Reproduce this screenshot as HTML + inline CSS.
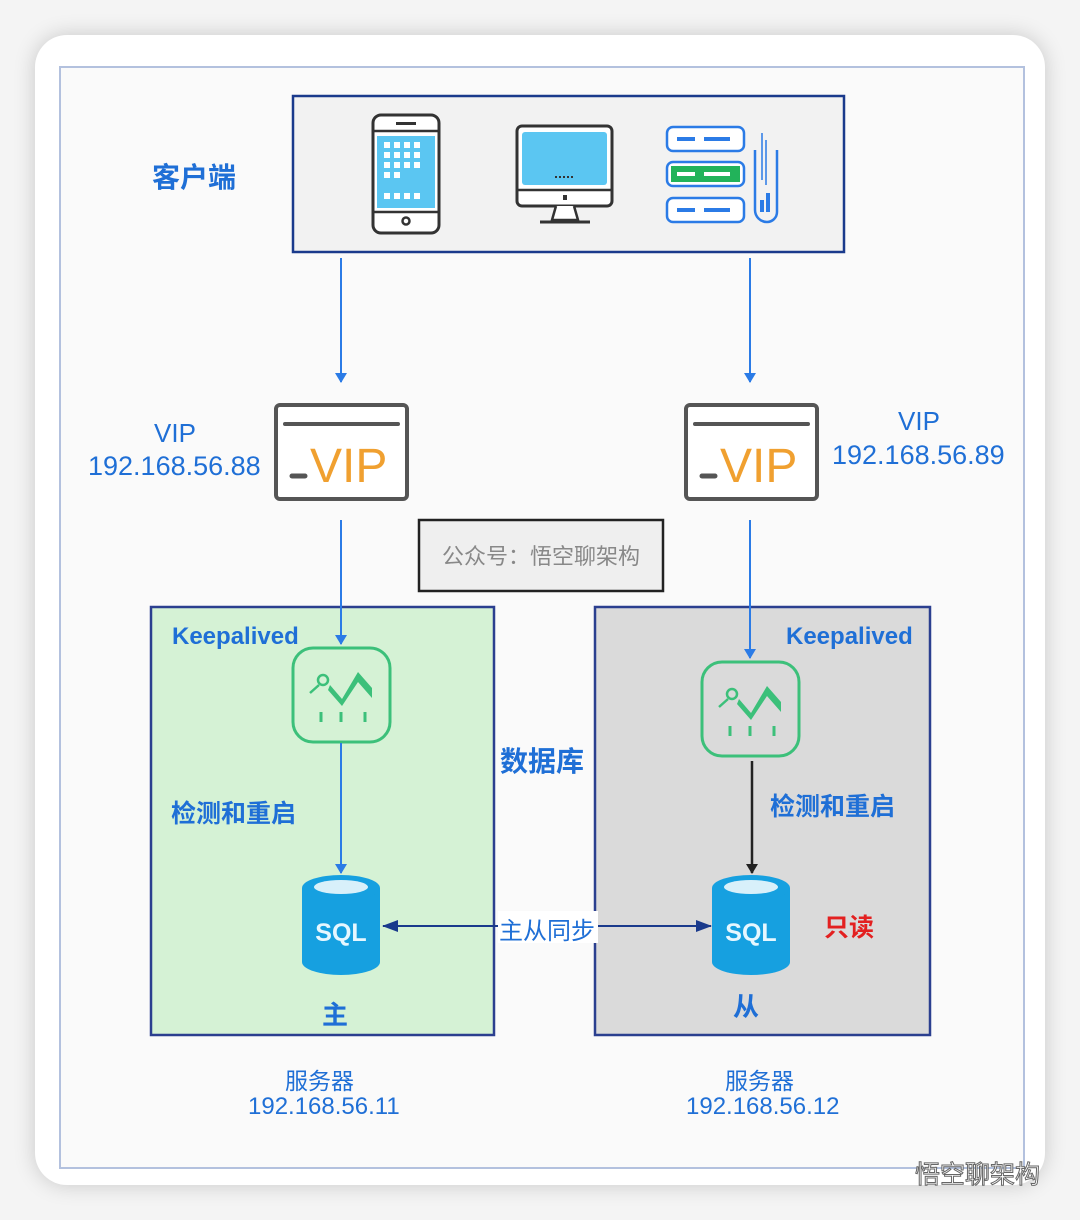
<!DOCTYPE html>
<html><head><meta charset="utf-8"><style>
body{margin:0;width:1080px;height:1220px;background:#f4f4f4;position:relative;overflow:hidden;font-family:"Liberation Sans","Noto Sans CJK SC",sans-serif}
.card{position:absolute;left:35px;top:35px;width:1010px;height:1150px;background:#fff;border-radius:32px;box-shadow:0 0 22px rgba(0,0,0,.18)}
.t{position:absolute;color:#1f6fd6;font-weight:bold;white-space:nowrap}
</style></head><body>
<div class="card"></div>
<svg style="position:absolute;left:0;top:0" width="1080" height="1220">
<defs>
<marker id="ab" markerWidth="10" markerHeight="12" refX="9" refY="6" orient="auto" markerUnits="userSpaceOnUse"><path d="M0,0L10,6L0,12z" fill="#2b7be6"/></marker>
<marker id="ak" markerWidth="10" markerHeight="12" refX="9" refY="6" orient="auto" markerUnits="userSpaceOnUse"><path d="M0,0L10,6L0,12z" fill="#222"/></marker>
<marker id="an" markerWidth="16" markerHeight="12" refX="15" refY="6" orient="auto" markerUnits="userSpaceOnUse"><path d="M0,0L16,6L0,12z" fill="#1a3a8c"/></marker>
</defs>
<rect x="60" y="67" width="964" height="1101" fill="#fafafa" stroke="#b3c1de" stroke-width="2"/>
<rect x="293" y="96" width="551" height="156" fill="#f2f2f2" stroke="#1a3a8c" stroke-width="2.5"/>
<rect x="373" y="115" width="66" height="118" rx="8" fill="#fff" stroke="#333" stroke-width="3"/>
<line x1="373" y1="131" x2="439" y2="131" stroke="#333" stroke-width="2.5"/><line x1="373" y1="212" x2="439" y2="212" stroke="#333" stroke-width="2.5"/>
<rect x="396" y="122" width="20" height="3" fill="#333"/>
<rect x="377" y="136" width="58" height="72" fill="#5bc6f2"/>
<g fill="#fff"><rect x="384" y="142" width="6" height="6"/><rect x="394" y="142" width="6" height="6"/><rect x="404" y="142" width="6" height="6"/><rect x="414" y="142" width="6" height="6"/><rect x="384" y="152" width="6" height="6"/><rect x="394" y="152" width="6" height="6"/><rect x="404" y="152" width="6" height="6"/><rect x="414" y="152" width="6" height="6"/><rect x="384" y="162" width="6" height="6"/><rect x="394" y="162" width="6" height="6"/><rect x="404" y="162" width="6" height="6"/><rect x="414" y="162" width="6" height="6"/><rect x="384" y="172" width="6" height="6"/><rect x="394" y="172" width="6" height="6"/><rect x="384" y="193" width="6" height="6"/><rect x="394" y="193" width="6" height="6"/><rect x="404" y="193" width="6" height="6"/><rect x="414" y="193" width="6" height="6"/></g>
<circle cx="406" cy="221" r="3.5" fill="none" stroke="#333" stroke-width="2.5"/>
<rect x="517" y="126" width="95" height="80" rx="5" fill="#fff" stroke="#333" stroke-width="3"/>
<rect x="522" y="132" width="85" height="53" rx="3" fill="#5bc6f2"/>
<line x1="517" y1="190" x2="612" y2="190" stroke="#333" stroke-width="2.5"/>
<g fill="#333"><rect x="555" y="176" width="2" height="2"/><rect x="559" y="176" width="2" height="2"/><rect x="563" y="176" width="2" height="2"/><rect x="567" y="176" width="2" height="2"/><rect x="571" y="176" width="2" height="2"/></g>
<rect x="563" y="195" width="4" height="5" fill="#333"/>
<path d="M556,206L552,220H578L574,206" fill="#fff" stroke="#333" stroke-width="2.5"/>
<line x1="540" y1="222" x2="590" y2="222" stroke="#333" stroke-width="3"/>
<g stroke="#2b7be6" stroke-width="2.5"><rect x="667" y="127" width="77" height="24" rx="6" fill="#fff"/><rect x="667" y="162" width="77" height="24" rx="6" fill="#fff"/><rect x="667" y="198" width="77" height="24" rx="6" fill="#fff"/>
<path d="M755,150V210a12,12 0 0 0 12,12h0a10,10 0 0 0 10,-10V150" fill="none"/></g>
<rect x="671" y="166" width="69" height="16" fill="#22b35a"/>
<g fill="#2b7be6"><rect x="677" y="137" width="18" height="4"/><rect x="704" y="137" width="26" height="4"/><rect x="677" y="208" width="18" height="4"/><rect x="704" y="208" width="26" height="4"/><rect x="760" y="200" width="4" height="12"/><rect x="766" y="193" width="4" height="19"/></g>
<g fill="#fff"><rect x="677" y="172" width="18" height="4"/><rect x="704" y="172" width="26" height="4"/></g>
<path d="M762,133V180M766,140V185" stroke="#2b7be6" stroke-width="1.5"/>
<line x1="341" y1="258" x2="341" y2="382" stroke="#2b7be6" stroke-width="2" marker-end="url(#ab)"/>
<line x1="750" y1="258" x2="750" y2="382" stroke="#2b7be6" stroke-width="2" marker-end="url(#ab)"/>
<g><rect x="276" y="405" width="131" height="94" rx="4" fill="#fff" stroke="#555" stroke-width="4"/><line x1="285" y1="424" x2="398" y2="424" stroke="#555" stroke-width="4" stroke-linecap="round"/><line x1="292" y1="476" x2="305" y2="476" stroke="#555" stroke-width="5" stroke-linecap="round"/>
<text x="310" y="482" font-size="48" fill="#f0a030" font-family="Liberation Sans">VIP</text></g>
<g><rect x="686" y="405" width="131" height="94" rx="4" fill="#fff" stroke="#555" stroke-width="4"/><line x1="695" y1="424" x2="808" y2="424" stroke="#555" stroke-width="4" stroke-linecap="round"/><line x1="702" y1="476" x2="715" y2="476" stroke="#555" stroke-width="5" stroke-linecap="round"/>
<text x="720" y="482" font-size="48" fill="#f0a030" font-family="Liberation Sans">VIP</text></g>
<rect x="419" y="520" width="244" height="71" fill="#efefef" stroke="#222" stroke-width="2.5"/>
<text x="541" y="564" font-size="22" fill="#888" text-anchor="middle" font-family="Noto Sans CJK SC,sans-serif">公众号：悟空聊架构</text>
<rect x="151" y="607" width="343" height="428" fill="#d5f2d5" stroke="#2b3f8f" stroke-width="2.5"/>
<rect x="595" y="607" width="335" height="428" fill="#dadada" stroke="#2b3f8f" stroke-width="2.5"/>
<line x1="341" y1="520" x2="341" y2="644" stroke="#2b7be6" stroke-width="2" marker-end="url(#ab)"/>
<line x1="750" y1="520" x2="750" y2="658" stroke="#2b7be6" stroke-width="2" marker-end="url(#ab)"/>
<g><rect x="293" y="648" width="97" height="94" rx="20" fill="none" stroke="#3cc07a" stroke-width="3"/>
<circle cx="323" cy="680" r="5" fill="none" stroke="#3cc07a" stroke-width="2.5"/><path d="M310,693L319,685" stroke="#3cc07a" stroke-width="2.5"/>
<path d="M330,685L342,699L358,672L372,688V698L358,682L342,706L328,690z" fill="#3cc07a"/>
<path d="M321,712V722M341,712V722M365,712V722" stroke="#3cc07a" stroke-width="3"/></g>
<g transform="translate(409,14)"><rect x="293" y="648" width="97" height="94" rx="20" fill="none" stroke="#3cc07a" stroke-width="3"/>
<circle cx="323" cy="680" r="5" fill="none" stroke="#3cc07a" stroke-width="2.5"/><path d="M310,693L319,685" stroke="#3cc07a" stroke-width="2.5"/>
<path d="M330,685L342,699L358,672L372,688V698L358,682L342,706L328,690z" fill="#3cc07a"/>
<path d="M321,712V722M341,712V722M365,712V722" stroke="#3cc07a" stroke-width="3"/></g>
<line x1="341" y1="743" x2="341" y2="873" stroke="#2b7be6" stroke-width="2" marker-end="url(#ab)"/>
<line x1="752" y1="761" x2="752" y2="873" stroke="#222" stroke-width="2.5" marker-end="url(#ak)"/>
<g><path d="M302,888V962a39,13 0 0 0 78,0V888z" fill="#16a0e0"/><ellipse cx="341" cy="888" rx="39" ry="13" fill="#16a0e0"/><ellipse cx="341" cy="887" rx="27" ry="7" fill="#d8f0fa"/>
<text x="341" y="941" font-size="25" font-weight="bold" fill="#e6f7ff" text-anchor="middle">SQL</text></g>
<g><path d="M712,888V962a39,13 0 0 0 78,0V888z" fill="#16a0e0"/><ellipse cx="751" cy="888" rx="39" ry="13" fill="#16a0e0"/><ellipse cx="751" cy="887" rx="27" ry="7" fill="#d8f0fa"/>
<text x="751" y="941" font-size="25" font-weight="bold" fill="#e6f7ff" text-anchor="middle">SQL</text></g>
<line x1="498" y1="926" x2="383" y2="926" stroke="#1a3a8c" stroke-width="2" marker-end="url(#an)"/>
<line x1="598" y1="926" x2="711" y2="926" stroke="#1a3a8c" stroke-width="2" marker-end="url(#an)"/>
<rect x="498" y="911" width="100" height="32" fill="#fff"/>
</svg>
<div class="t" style="left:152px;top:156px;font-size:28px">客户端</div>
<div class="t" style="left:154px;top:418px;font-size:26px;font-weight:normal">VIP</div>
<div class="t" style="left:88px;top:451px;font-size:27px;font-weight:normal">192.168.56.88</div>
<div class="t" style="left:898px;top:406px;font-size:26px;font-weight:normal">VIP</div>
<div class="t" style="left:832px;top:440px;font-size:27px;font-weight:normal">192.168.56.89</div>
<div class="t" style="left:172px;top:623px;font-size:24px">Keepalived</div>
<div class="t" style="left:786px;top:623px;font-size:24px">Keepalived</div>
<div class="t" style="left:500px;top:740px;font-size:28px">数据库</div>
<div class="t" style="left:171px;top:794px;font-size:25px">检测和重启</div>
<div class="t" style="left:770px;top:787px;font-size:25px">检测和重启</div>
<div class="t" style="left:499px;top:911px;font-size:24px;font-weight:normal">主从同步</div>
<div class="t" style="left:824px;top:908px;font-size:25px;color:#e32020">只读</div>
<div class="t" style="left:322px;top:995px;font-size:26px">主</div>
<div class="t" style="left:733px;top:987px;font-size:26px">从</div>
<div class="t" style="left:285px;top:1062px;font-size:23px;font-weight:normal">服务器</div>
<div class="t" style="left:248px;top:1093px;font-size:24px;font-weight:normal">192.168.56.11</div>
<div class="t" style="left:725px;top:1062px;font-size:23px;font-weight:normal">服务器</div>
<div class="t" style="left:686px;top:1093px;font-size:24px;font-weight:normal">192.168.56.12</div>
<div style="position:absolute;left:915px;top:1155px;font-size:25px;color:#fff;-webkit-text-stroke:1px #666;font-family:'Noto Sans CJK SC',sans-serif">悟空聊架构</div>
</body></html>
